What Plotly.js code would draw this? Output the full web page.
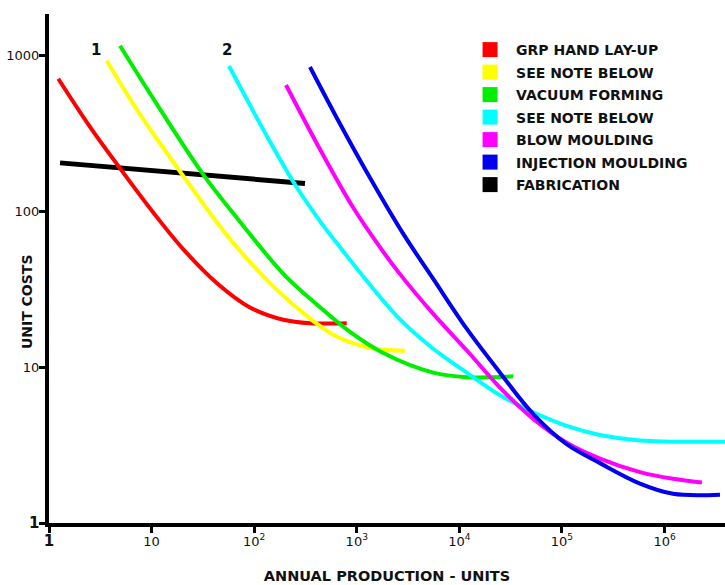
<!DOCTYPE html>
<html>
<head>
<meta charset="utf-8">
<script src="https://cdn.plot.ly/plotly-3.0.1.min.js"></script>
<style>html,body{margin:0;padding:0;background:#fff;}#chart{width:725px;height:585px;}</style>
</head>
<body>
<div id="chart"></div>
<script>
// Tick labels
const xTickVals = [1, 10, 100, 1000, 1e4, 1e5, 1e6];
const xTickText = ['<b><span style="font-size:15px">1</span></b>', '10', '10<sup>2</sup>', '10<sup>3</sup>', '10<sup>4</sup>', '10<sup>5</sup>', '10<sup>6</sup>'];
const yTickVals = [1, 10, 100, 1000];
const yTickText = ['<b><span style="font-size:15px">1</span></b>', '10', '100', '1000'];

// Series names and colours
const seriesNames = ['GRP HAND LAY-UP', 'SEE NOTE BELOW', 'VACUUM FORMING', 'SEE NOTE BELOW', 'BLOW MOULDING', 'INJECTION MOULDING', 'FABRICATION'];
const seriesColors = ['#ff0000', '#ffff00', '#00ee00', '#00ffff', '#ff00ff', '#0000ee', '#000000'];

// Data (annual production in units, unit cost)
const grpX = [1.232, 2.51, 4.92, 10.39, 20.4, 43.1, 91.0, 192.1, 349.9, 797.3];
const grpY = [704.6, 346.2, 187.9, 97.7, 56.8, 34.6, 24.1, 20.1, 19.1, 19.1];

const note1X = [3.65, 7.71, 18.9, 39.9, 62.6, 132.4, 279.5, 590.2, 1249, 2950];
const note1Y = [919.3, 415.9, 179.4, 90.9, 62.3, 36.2, 23.1, 16.1, 13.4, 12.7];

const vacX = [4.92, 10.39, 31.9, 72.7, 192.1, 406.6, 858.5, 1813, 5566, 11780, 33530];
const vacY = [1146, 524.8, 171.1, 85.4, 39.6, 25.2, 16.8, 12.3, 9.20, 8.61, 8.71];

const note2X = [56.8, 142.6, 259.6, 437.8, 738.7, 1249, 2637, 5566, 11780, 24870, 52530, 111100, 234700, 575700, 3.879e6];
const note2Y = [850, 278.1, 142.0, 86.2, 55.1, 35.7, 20.2, 13.1, 9.20, 6.59, 5.13, 4.20, 3.67, 3.38, 3.32];

const blowX = [204.2, 437.8, 924.5, 1813, 2637, 5566, 11780, 24870, 52530, 111100, 234700, 575700, 1.208e6, 2.314e6];
const blowY = [642.3, 248.7, 104.9, 54.7, 39.4, 21.9, 12.8, 7.37, 4.64, 3.27, 2.59, 2.12, 1.92, 1.82];

const injX = [349.9, 637.1, 1345, 2840, 5566, 11780, 24870, 52530, 111100, 234700, 575700, 1.208e6, 3.467e6];
const injY = [838, 396.6, 163.3, 71.3, 36.7, 17.6, 9.20, 4.99, 3.20, 2.42, 1.79, 1.54, 1.52];

const fabX = [1.280, 312.7];
const fabY = [203.5, 150.2];

const seriesX = [grpX, note1X, vacX, note2X, blowX, injX, fabX];
const seriesY = [grpY, note1Y, vacY, note2Y, blowY, injY, fabY];

const FONT = 'DejaVu Sans, Verdana, sans-serif';
const traces = [];
// draw order: fabrication first, then the rest
const drawOrder = [6, 0, 1, 2, 3, 4, 5];
drawOrder.forEach(function (i) {
  traces.push({
    x: seriesX[i], y: seriesY[i], type: 'scatter', mode: 'lines',
    name: seriesNames[i], legendgroup: 'g' + i, showlegend: false,
    line: {color: seriesColors[i], width: i === 6 ? 5 : 4, shape: 'spline', smoothing: 1},
    hoverinfo: 'x+y+name'
  });
});
// legend entries (square swatches)
seriesNames.forEach(function (n, i) {
  traces.push({
    x: [null], y: [null], type: 'scatter', mode: 'markers', name: n,
    legendgroup: 'g' + i, showlegend: true,
    marker: {symbol: 'square', size: 15, color: seriesColors[i]}
  });
});

const layout = {
  width: 725, height: 585,
  margin: {l: 49, r: 0, t: 14, b: 62},
  paper_bgcolor: '#ffffff', plot_bgcolor: '#ffffff',
  font: {family: FONT, color: '#111111', size: 13},
  showlegend: true,
  legend: {
    x: 0.614, y: 0.9607, xanchor: 'left', yanchor: 'top',
    bgcolor: 'rgba(255,255,255,0)', itemwidth: 42,
    font: {family: FONT, size: 14, color: '#111111', weight: 700},
    traceorder: 'grouped', tracegroupgap: 1.3
  },
  xaxis: {
    type: 'log', range: [0, 6.589],
    tickmode: 'array', tickvals: xTickVals, ticktext: xTickText,
    showline: true, linecolor: '#000000', linewidth: 4,
    ticks: 'outside', ticklen: 6, tickwidth: 3, tickcolor: '#000000',
    ticklabelstandoff: -3,
    showgrid: false, zeroline: false,
    tickfont: {family: FONT, size: 13, color: '#111111'},
    title: {text: '<b>ANNUAL PRODUCTION - UNITS</b>', font: {family: FONT, size: 14.5, color: '#111111'}, standoff: 23}
  },
  yaxis: {
    type: 'log', range: [0, 3.263],
    tickmode: 'array', tickvals: yTickVals, ticktext: yTickText,
    showline: true, linecolor: '#000000', linewidth: 4,
    ticks: 'outside', ticklen: 6, tickwidth: 3, tickcolor: '#000000',
    ticklabelstandoff: -3,
    showgrid: false, zeroline: false,
    tickfont: {family: FONT, size: 13, color: '#111111'}
  },
  annotations: [
    {text: '<b>UNIT COSTS</b>', xref: 'paper', yref: 'paper', x: -0.0325, y: 0.434,
     xanchor: 'center', yanchor: 'middle',
     textangle: -90, showarrow: false, font: {family: FONT, size: 14, color: '#111111'}},
    {text: '<b>1</b>', xref: 'x', yref: 'y', x: Math.log10(2.85), y: 3.035, showarrow: false,
     xanchor: 'center', yanchor: 'middle', font: {family: FONT, size: 15, color: '#111111'}},
    {text: '<b>2</b>', xref: 'x', yref: 'y', x: Math.log10(54), y: 3.03, showarrow: false,
     xanchor: 'center', yanchor: 'middle', font: {family: FONT, size: 15, color: '#111111'}}
  ]
};

Plotly.newPlot('chart', traces, layout, {displayModeBar: false, staticPlot: true});
</script>
</body>
</html>
